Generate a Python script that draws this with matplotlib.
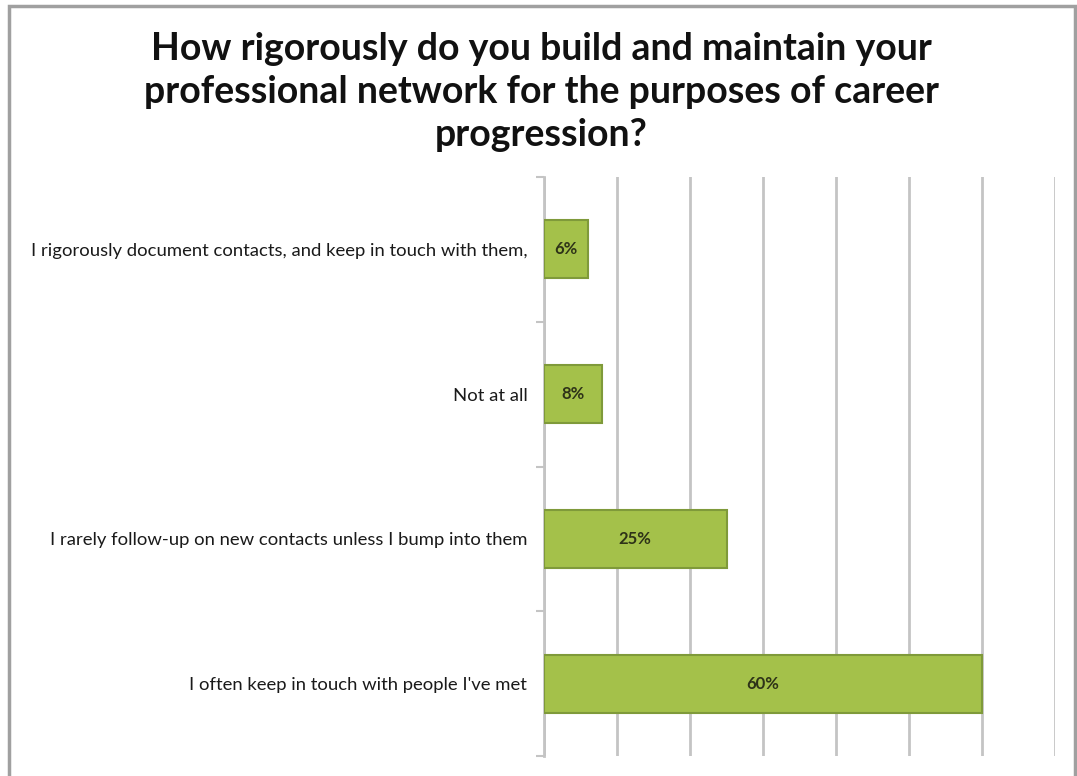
import matplotlib
matplotlib.use('Agg')
import matplotlib.pyplot as plt
from matplotlib.patches import Rectangle

# survey answers, bottom to top as drawn
categories = [
    'I often keep in touch with people I\'ve met',
    'I rarely follow-up on new contacts unless I bump into them',
    'Not at all',
    'I rigorously document contacts, and keep in touch with them,',
]
percent = [60, 25, 8, 6]
value_labels = ['60%', '25%', '8%', '6%']

title = ('How rigorously do you build and maintain your\n'
         'professional network for the purposes of career\n'
         'progression?')

bar_color = '#a4c14a'
edge_color = '#7f9a3a'
grid_color = '#c4c4c4'

plt.rcParams['font.family'] = ['Lato', 'DejaVu Sans']

fig = plt.figure(figsize=(10.77, 7.76), dpi=100)
W, H = 1077, 776

# grey frame round the chart, open at the bottom edge
fig.patches.append(Rectangle((9 / W, -0.1), (1075 - 9) / W, 1.1 - 6 / H, transform=fig.transFigure,
                             fill=False, edgecolor='#a0a0a0', linewidth=2.5))

ax = fig.add_axes([544 / W, 1 - 756 / H, (1055 - 544) / W, (756 - 177) / H])

y = range(len(categories))
ax.barh(y, percent, height=0.4, color=bar_color, edgecolor=edge_color, linewidth=1.5, zorder=3)
for i, (v, lab) in enumerate(zip(percent, value_labels)):
    ax.text(v / 2, i, lab, ha='center', va='center', fontsize=12, fontweight='bold',
            color='#2e3318', zorder=4)

ax.set_xlim(0, 70)
ax.set_ylim(-0.5, len(categories) - 0.5)
ax.set_xticks(range(0, 80, 10))
ax.xaxis.grid(True, color=grid_color, linewidth=2, zorder=0)
ax.tick_params(axis='x', length=0, labelbottom=False)

# category names sit at the centres, tick marks at the boundaries
ax.set_yticks(list(y))
ax.set_yticklabels(categories, fontsize=13.3, color='#1a1a1a')
ax.tick_params(axis='y', which='major', length=0, pad=12)
ax.set_yticks([i - 0.5 for i in range(len(categories) + 1)], minor=True)
ax.tick_params(axis='y', which='minor', length=6, width=1.5, color=grid_color)

for s in ['top', 'right', 'bottom']:
    ax.spines[s].set_visible(False)
ax.spines['left'].set_color(grid_color)
ax.spines['left'].set_linewidth(2)

fig.text(541 / W, 1 - 32 / H, title, ha='center', va='top', fontsize=27, fontweight='bold',
         linespacing=1.33, color='#111111')

fig.savefig('out.png', dpi=100)
